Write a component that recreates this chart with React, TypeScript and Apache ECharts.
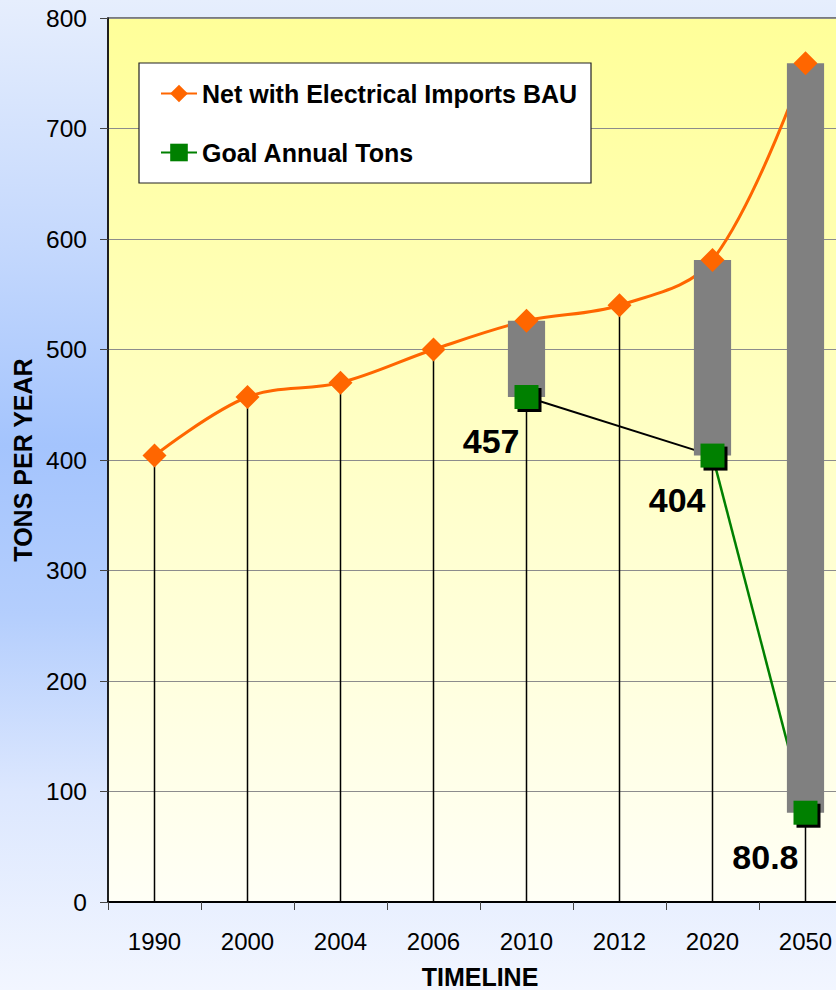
import React, { useEffect, useRef } from 'react';
import * as echarts from 'echarts';

const categories = ['1990', '2000', '2004', '2006', '2010', '2012', '2020', '2050'];
const bauValues = [404, 457, 470, 500, 526, 540, 581, 759];
const goalValues: (number | null)[] = [null, null, null, null, 457, null, 404, 80.8];
const seriesNames = ['Net with Electrical Imports BAU', 'Goal Annual Tons'];

const FONT = "'Liberation Sans', Arial, Helvetica, sans-serif";

export default function App() {
  const ref = useRef<HTMLDivElement>(null);

  useEffect(() => {
    document.body.style.margin = '0';
    document.body.style.overflow = 'hidden';
    const chart = echarts.init(ref.current!, null, { renderer: 'svg' });

    const goalIdx = goalValues.map((v, i) => (v == null ? -1 : i)).filter((i) => i >= 0);
    const segment = (a: number, b: number) =>
      goalValues.map((v, i) => (i === a || i === b ? (v as number) : '-'));
    const blackSeg = segment(goalIdx[0], goalIdx[1]);
    const greenSeg = segment(goalIdx[1], goalIdx[2]);
    const goalPts = goalValues.map((v) => (v == null ? '-' : v));
    const barData = goalIdx.map((i) => [i, goalValues[i] as number, bauValues[i]]);

    const option: any = {
      animation: false,
      backgroundColor: 'transparent',
      grid: {
        left: 108,
        top: 18,
        right: 0,
        bottom: 88,
        containLabel: false,
        outerBoundsMode: 'none',
        show: true,
        borderColor: '#555',
        borderWidth: 1.5,
        backgroundColor: {
          type: 'linear',
          x: 0, y: 0, x2: 0, y2: 1,
          colorStops: [
            { offset: 0, color: '#ffff99' },
            { offset: 1, color: '#fffff6' },
          ],
        },
      },
      legend: {
        data: seriesNames,
        orient: 'vertical',
        left: 160,
        top: 81,
        itemWidth: 36,
        itemHeight: 22,
        itemGap: 34,
        padding: 0,
        z: 11,
        selectedMode: false,
        textStyle: { fontSize: 25, fontWeight: 'bold', color: '#000', fontFamily: FONT },
      },
      graphic: [
        {
          type: 'rect',
          z: 10,
          shape: { x: 139, y: 63, width: 452, height: 120 },
          style: { fill: '#fff', stroke: '#222', lineWidth: 1.2 },
        },
      ],
      xAxis: {
        type: 'category',
        data: categories,
        boundaryGap: true,
        name: 'TIMELINE',
        nameLocation: 'middle',
        nameGap: 62,
        nameTextStyle: { fontSize: 25, fontWeight: 'bold', color: '#000', fontFamily: FONT },
        axisLine: { lineStyle: { color: '#000', width: 2 } },
        axisTick: { show: true, alignWithLabel: false, length: 8, lineStyle: { color: '#444' } },
        axisLabel: { fontSize: 24, color: '#000', margin: 27, fontFamily: FONT, interval: 0 },
        splitLine: { show: false },
      },
      yAxis: {
        type: 'value',
        min: 0,
        max: 800,
        interval: 100,
        name: 'TONS PER YEAR',
        nameLocation: 'middle',
        nameGap: 66,
        nameTextStyle: { fontSize: 25, fontWeight: 'bold', color: '#000', fontFamily: FONT },
        axisLine: { show: true, lineStyle: { color: '#000', width: 1.5 } },
        axisTick: { show: true, length: 8, lineStyle: { color: '#444' } },
        axisLabel: { fontSize: 24.5, color: '#000', margin: 21, fontFamily: FONT },
        splitLine: { show: true, lineStyle: { color: '#8c8c8c', width: 1 } },
      },
      series: [
        {
          name: 'drop',
          type: 'custom',
          z: 1,
          silent: true,
          data: bauValues.map((v, i) => [i, v]),
          encode: { x: 0, y: 1 },
          renderItem: (_p: any, api: any) => {
            const top = api.coord([api.value(0), api.value(1)]);
            const bot = api.coord([api.value(0), 0]);
            return {
              type: 'line',
              shape: { x1: top[0], y1: top[1], x2: bot[0], y2: bot[1] },
              style: { stroke: '#000', lineWidth: 1.5 },
            };
          },
        },
        {
          name: seriesNames[0],
          type: 'line',
          z: 2,
          data: bauValues,
          smooth: 0.35,
          symbol: 'diamond',
          showSymbol: false,
          color: '#ff6600',
          lineStyle: { color: '#ff6600', width: 3 },
          itemStyle: { color: '#ff6600' },
        },
        {
          name: 'goalBlack',
          type: 'line',
          z: 2,
          data: blackSeg,
          connectNulls: true,
          symbol: 'none',
          lineStyle: { color: '#000', width: 2 },
        },
        {
          name: seriesNames[1],
          type: 'line',
          z: 2,
          data: greenSeg,
          connectNulls: true,
          symbol: 'rect',
          showSymbol: false,
          color: '#008000',
          lineStyle: { color: '#008000', width: 2.5 },
          itemStyle: { color: '#008000' },
        },
        {
          name: 'range',
          type: 'custom',
          z: 3,
          silent: true,
          data: barData,
          encode: { x: 0, y: [1, 2] },
          renderItem: (_p: any, api: any) => {
            const lo = api.coord([api.value(0), api.value(1)]);
            const hi = api.coord([api.value(0), api.value(2)]);
            const w = api.size([1, 0])[0] * 0.4;
            return {
              type: 'rect',
              shape: { x: lo[0] - w / 2, y: hi[1], width: w, height: lo[1] - hi[1] },
              style: { fill: '#808080' },
            };
          },
        },
        {
          name: 'bauMarks',
          type: 'scatter',
          z: 5,
          data: bauValues,
          symbol: 'diamond',
          symbolSize: [24, 24],
          itemStyle: { color: '#ff6600', opacity: 1 },
        },
        {
          name: 'goalShadow',
          type: 'scatter',
          z: 5,
          data: goalPts,
          symbol: 'rect',
          symbolSize: 24,
          symbolOffset: [3, 3],
          itemStyle: { color: '#000', opacity: 1 },
        },
        {
          name: 'goalMarks',
          type: 'scatter',
          z: 6,
          data: goalPts,
          symbol: 'rect',
          symbolSize: 24,
          itemStyle: { color: '#008000', opacity: 1 },
          label: {
            show: true,
            position: 'inside',
            align: 'right',
            verticalAlign: 'middle',
            offset: [-7, 44],
            fontSize: 34,
            fontWeight: 'bold',
            color: '#000',
            opacity: 1,
            textBorderWidth: 0,
            fontFamily: FONT,
            formatter: (p: any) => String(p.value),
          },
        },
      ],
    };

    chart.setOption(option);
    return () => chart.dispose();
  }, []);

  return (
    <div
      style={{
        width: 836,
        height: 990,
        overflow: 'hidden',
        position: 'relative',
        background:
          'linear-gradient(to bottom, #e6eefd 0%, #c4d8fd 25%, #a4c4fd 45%, #b4cefd 62%, #dce7fe 80%, #f2f6ff 100%)',
      }}
    >
      <div ref={ref} style={{ width: 852, height: 990, position: 'absolute', left: 0, top: 0 }} />
    </div>
  );
}
